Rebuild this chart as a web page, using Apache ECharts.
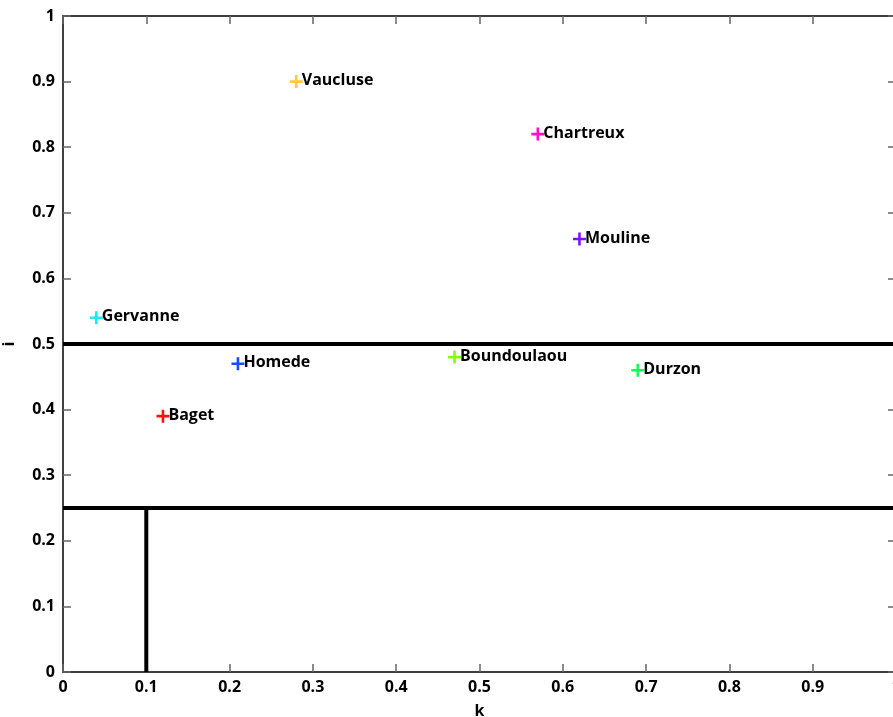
<!DOCTYPE html>
<html>
<head>
<meta charset="utf-8">
<script src="https://cdn.jsdelivr.net/npm/echarts@6/dist/echarts.min.js"></script>
<style>html,body{margin:0;padding:0;background:#fff}#c{width:893px;height:717px}</style>
</head>
<body>
<div id="c"></div>
<script>
const names = ['Baget','Homede','Gervanne','Boundoulaou','Durzon','Vaucluse','Chartreux','Mouline'];
const kValues = [0.12, 0.21, 0.04, 0.47, 0.69, 0.28, 0.57, 0.62];
const iValues = [0.39, 0.47, 0.54, 0.48, 0.46, 0.90, 0.82, 0.66];
const colors = ['#ff1010','#1050ff','#10f0f0','#80ff10','#10ff50','#ffc840','#ff10c8','#8010ff'];
const line1 = [[0,0.5],[1,0.5]];
const line2 = [[0,0.25],[1,0.25]];
const line3 = [[0.1,0],[0.1,0.25]];

const font = 'Open Sans';
const plus = 'path://M4,0H6V4H10V6H6V10H4V6H0V4H4Z';
const fmt = v => String(Math.round(v*10)/10);

const series = names.map((n, idx) => ({
  type: 'scatter',
  data: [[kValues[idx], iValues[idx]]],
  symbol: plus,
  symbolSize: 13,
  itemStyle: {color: colors[idx], opacity: 1},
  label: {show: true, position: 'right', distance: -1, formatter: n, color: '#000',
          fontFamily: font, fontWeight: 'bold', fontSize: 16, offset:[0,-1]},
  z: 5
}));
[line1, line2, line3].forEach(d => series.push({
  type: 'line', data: d, symbol: 'none', lineStyle: {color: '#000', width: 4}, z: 3, silent: true
}));

const axisCommon = {
  min: 0, max: 1, interval: 0.1,
  axisLine: {show: true, onZero: false, lineStyle: {color: '#000', width: 1.5}},
  axisTick: {show: true, inside: true, length: 8, lineStyle: {color: '#666', width: 1.5}},
  splitLine: {show: false}
};

const chart = echarts.init(document.getElementById('c'));
chart.setOption({
  animation: false,
  grid: {left: 63, top: 16, right: -3, bottom: 45, containLabel: false, outerBoundsMode: 'none'},
  xAxis: [
    Object.assign({}, axisCommon, {type: 'value', position: 'bottom', name: 'k', nameLocation: 'middle', nameGap: 31,
      nameTextStyle: {fontFamily: font, fontWeight: 'bold', fontSize: 16, color: '#000'},
      axisLabel: {formatter: fmt, fontFamily: font, fontWeight: 'bold', fontSize: 16, color: '#000', margin: 7}}),
    Object.assign({}, axisCommon, {type: 'value', position: 'top', axisLabel: {show: false}})
  ],
  yAxis: [
    Object.assign({}, axisCommon, {type: 'value', position: 'left', name: 'i', nameLocation: 'middle', nameGap: 46,
      nameRotate: 90,
      nameTextStyle: {fontFamily: font, fontWeight: 'bold', fontSize: 16, color: '#000'},
      axisLabel: {formatter: fmt, fontFamily: font, fontWeight: 'bold', fontSize: 16, color: '#000', margin: 8}}),
    Object.assign({}, axisCommon, {type: 'value', position: 'right', axisLabel: {show: false}})
  ],
  series: series
});
</script>
</body>
</html>
